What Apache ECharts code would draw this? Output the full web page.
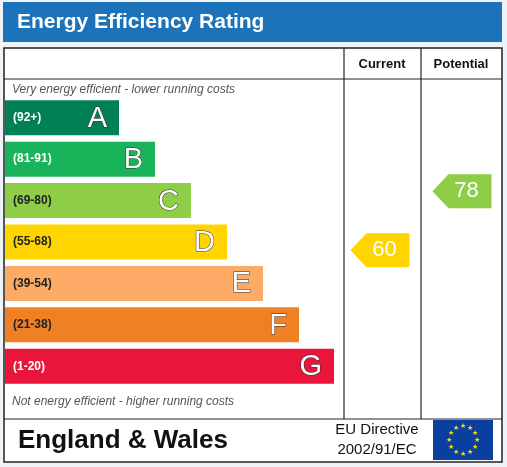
<!DOCTYPE html>
<html><head><meta charset="utf-8">
<script src="https://cdn.jsdelivr.net/npm/echarts@6/dist/echarts.min.js"></script>
<style>html,body{margin:0;padding:0;background:#fff}#c{width:507px;height:467px}</style>
</head><body><div id="c"></div>
<script>
const bands = ['A','B','C','D','E','F','G'];
const ranges = ['(92+)','(81-91)','(69-80)','(55-68)','(39-54)','(21-38)','(1-20)'];
const barLengths = [114,150,186,222,258,294,329];
const colors = ['#008054','#19b459','#8dce46','#ffd500','#fcaa65','#ef8023','#e9153b'];
const rangeTextColors = ['#fff','#fff','#222','#222','#222','#222','#fff'];
const currentScore = 60, potentialScore = 78;

const chart = echarts.init(document.getElementById('c'));
const F = 'Liberation Sans, Arial, sans-serif';
function arrow(col, color, score, dx) {
  return {
    type: 'custom', xAxisIndex: 1, yAxisIndex: 1, silent: true, z: 5,
    data: [[col, score]],
    renderItem: (p, api) => {
      const c = api.coord([api.value(0), api.value(1)]);
      c[0] += dx;
      const L = c[0] - 33, R = c[0] + 26, h = 17;
      return { type: 'group', children: [
        { type: 'polygon', shape: { points: [[L, c[1]], [L + 16, c[1] - h], [R, c[1] - h], [R, c[1] + h], [L + 16, c[1] + h]] }, style: { fill: color } },
        { type: 'text', style: { x: c[0] + 1, y: c[1], text: String(api.value(1)), fill: '#fff', font: '22px ' + F, align: 'center', verticalAlign: 'middle' } }
      ]};
    }
  };
}
chart.setOption({
  animation: false,
  grid: [
    { left: 5, top: 97, width: 329, height: 290 },
    { left: 344, top: 119, width: 158, height: 328 }
  ],
  xAxis: [
    { type: 'value', min: 0, max: 329, show: false, gridIndex: 0 },
    { type: 'value', min: 0, max: 2, show: false, gridIndex: 1 }
  ],
  yAxis: [
    { type: 'category', data: bands, inverse: true, show: false, gridIndex: 0 },
    { type: 'value', min: 0, max: 100, show: false, gridIndex: 1 }
  ],
  graphic: [
    { type: 'rect', shape: { x: 0, y: 0, width: 507, height: 467 }, style: { fill: '#eef3f8' }, z: -10 },
    { type: 'rect', shape: { x: 3, y: 2, width: 499, height: 40 }, style: { fill: '#1d73b9' }, z: -5 },
    { type: 'text', style: { x: 17, y: 22, text: 'Energy Efficiency Rating', fill: '#fff', font: 'bold 21px ' + F, verticalAlign: 'middle' } },
    { type: 'rect', shape: { x: 4, y: 48, width: 498, height: 414 }, style: { fill: '#fff', stroke: '#222', lineWidth: 1.5 }, z: -5 },
    { type: 'line', shape: { x1: 4, y1: 79, x2: 502, y2: 79 }, style: { stroke: '#222', lineWidth: 1.2 } },
    { type: 'line', shape: { x1: 4, y1: 419, x2: 502, y2: 419 }, style: { stroke: '#222', lineWidth: 1.2 } },
    { type: 'line', shape: { x1: 344, y1: 48, x2: 344, y2: 419 }, style: { stroke: '#222', lineWidth: 1.2 } },
    { type: 'line', shape: { x1: 421, y1: 48, x2: 421, y2: 419 }, style: { stroke: '#222', lineWidth: 1.2 } },
    { type: 'text', style: { x: 382, y: 64, text: 'Current', fill: '#111', font: 'bold 13px ' + F, align: 'center', verticalAlign: 'middle' } },
    { type: 'text', style: { x: 461, y: 64, text: 'Potential', fill: '#111', font: 'bold 13px ' + F, align: 'center', verticalAlign: 'middle' } },
    { type: 'text', style: { x: 12, y: 90, text: 'Very energy efficient - lower running costs', fill: '#555', font: 'italic 12px ' + F, verticalAlign: 'middle' } },
    { type: 'text', style: { x: 12, y: 402, text: 'Not energy efficient - higher running costs', fill: '#555', font: 'italic 12px ' + F, verticalAlign: 'middle' } },
    { type: 'text', style: { x: 18, y: 441, text: 'England & Wales', fill: '#111', font: 'bold 26px ' + F, verticalAlign: 'middle' } },
    { type: 'text', style: { x: 377, y: 430, text: 'EU Directive', fill: '#111', font: '15px ' + F, align: 'center', verticalAlign: 'middle' } },
    { type: 'text', style: { x: 377, y: 450, text: '2002/91/EC', fill: '#111', font: '15px ' + F, align: 'center', verticalAlign: 'middle' } },
    { type: 'rect', shape: { x: 433, y: 420, width: 60, height: 40 }, style: { fill: '#0a3fa0' } },
    ...Array.from({ length: 12 }, (_, i) => ({ type: 'text', style: { x: 463 + 14 * Math.cos(i * Math.PI / 6), y: 440 + 14 * Math.sin(i * Math.PI / 6), text: '★', fill: '#ffdd00', font: '7px ' + F, align: 'center', verticalAlign: 'middle' } }))
  ],
  series: [
    {
      type: 'bar', barWidth: 35, silent: true, z: 2,
      data: barLengths.map((v, i) => ({ value: v, itemStyle: { color: colors[i] } }))
    },
    {
      type: 'custom', silent: true, z: 6,
      data: barLengths.map((v, i) => [v, i]),
      renderItem: (p, api) => {
        const i = p.dataIndex;
        const s = api.coord([0, i]), e = api.coord([api.value(0), i]);
        return { type: 'group', children: [
          { type: 'text', style: { x: s[0] + 8, y: s[1], text: ranges[i], fill: rangeTextColors[i], font: 'bold 12px ' + F, verticalAlign: 'middle' } },
          { type: 'text', style: { x: e[0] - 12, y: s[1] + 1, text: bands[i], fill: '#fff', stroke: '#333', lineWidth: 1, font: '29px ' + F, align: 'right', verticalAlign: 'middle' } }
        ]};
      }
    },
    arrow(0.5, '#ffd500', currentScore, 0),
    arrow(1.5, '#8dce46', potentialScore, 3)
  ]
});
</script></body></html>
